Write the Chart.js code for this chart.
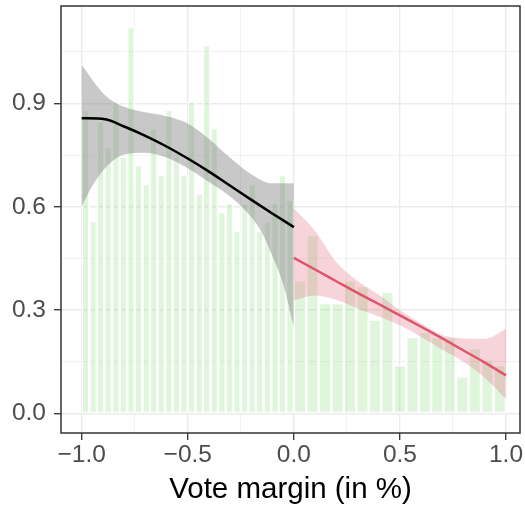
<!DOCTYPE html>
<html lang="en">
<head>
<meta charset="UTF-8">
<title>Vote margin</title>
<script src="https://cdn.jsdelivr.net/npm/chart.js"></script>
<style>
  body { margin: 0; background: #fff; }
  #wrap { width: 525px; height: 510px; }
</style>
</head>
<body>
<div id="wrap"><canvas id="rdd" width="525" height="510"></canvas></div>
<script>
// binned shares, left of the cutoff (28 bins) and right of it (17 bins)
const leftBins = [-0.982, -0.946, -0.911, -0.875, -0.839, -0.804, -0.768, -0.732, -0.696, -0.661,
                  -0.625, -0.589, -0.554, -0.518, -0.482, -0.446, -0.411, -0.375, -0.339, -0.304,
                  -0.268, -0.232, -0.196, -0.161, -0.125, -0.089, -0.054, -0.018];
const leftShare = [0.881, 0.558, 0.848, 0.774, 0.905, 0.745, 1.123, 0.720, 0.666, 0.828,
                   0.692, 0.881, 0.747, 0.692, 0.906, 0.639, 1.069, 0.828, 0.585, 0.611,
                   0.530, 0.611, 0.666, 0.530, 0.558, 0.611, 0.692, 0.620];
const rightBins = [0.029, 0.088, 0.147, 0.206, 0.265, 0.324, 0.382, 0.441, 0.500, 0.559,
                   0.618, 0.676, 0.735, 0.794, 0.853, 0.912, 0.971];
const rightShare = [0.387, 0.518, 0.321, 0.321, 0.387, 0.370, 0.273, 0.354, 0.141, 0.222,
                    0.237, 0.222, 0.222, 0.108, 0.190, 0.157, 0.141];

// fitted curve left of the cutoff, with its band
const fitLeftX = [-1, -0.89, -0.8, -0.7, -0.6, -0.5, -0.4, -0.3, -0.2, -0.1, 0];
const fitLeftY = [0.857, 0.854, 0.833, 0.806, 0.775, 0.740, 0.702, 0.661, 0.620, 0.580, 0.541];
const bandLeftHi = [1.011, 0.924, 0.890, 0.874, 0.863, 0.842, 0.797, 0.742, 0.694, 0.668, 0.668];
const bandLeftLoX = [-1, -0.95, -0.89, -0.8, -0.7, -0.6, -0.5, -0.4, -0.3, -0.2, -0.15, -0.1, -0.05, 0];
const bandLeftLo = [0.600, 0.660, 0.712, 0.752, 0.757, 0.743, 0.712, 0.672, 0.630, 0.570, 0.525, 0.455, 0.375, 0.251];

// fitted curve right of the cutoff, with its band
const fitRightX = [0, 0.1, 0.2, 0.3, 0.4, 0.5, 0.6, 0.7, 0.8, 0.9, 1];
const fitRightY = [0.452, 0.418, 0.384, 0.350, 0.318, 0.285, 0.252, 0.218, 0.183, 0.148, 0.111];
const bandRightHi = [0.595, 0.530, 0.440, 0.385, 0.345, 0.300, 0.262, 0.228, 0.218, 0.217, 0.246];
const bandRightLo = [0.329, 0.343, 0.330, 0.305, 0.282, 0.256, 0.222, 0.185, 0.150, 0.104, 0.042];

// axis breaks
const xMajor = [-1, -0.5, 0, 0.5, 1];
const xMinor = [-0.75, -0.25, 0.25, 0.75];
const yMajor = [0, 0.3, 0.6, 0.9];
const yMinor = [0.15, 0.45, 0.75, 1.05];

const pts = (xs, ys) => xs.map((x, i) => ({ x: x, y: ys[i] }));
const isIn = (list, v) => list.some(m => Math.abs(m - v) < 1e-9);
const fmt = v => v.toFixed(1).replace('-', '\u2212');

function setBreaks(major, minor) {
  return scale => {
    scale.ticks = major.concat(minor).sort((a, b) => a - b).map(v => ({ value: v }));
  };
}

function gridFor(major) {
  return {
    offset: false,
    color: '#EBEBEB',
    lineWidth: ctx => (ctx.tick && isIn(major, ctx.tick.value)) ? 1.4 : 0.7,
    tickColor: ctx => (ctx.tick && isIn(major, ctx.tick.value)) ? '#333333' : 'rgba(0,0,0,0)',
    tickWidth: 1.3,
    tickLength: 7,
    drawTicks: true
  };
}

// no extra room for half labels, the panel is placed by hand
function fixSize(prop, size) {
  return scale => {
    scale[prop] = size;
    scale.paddingTop = 0;
    scale.paddingBottom = 0;
    scale.paddingLeft = 0;
    scale.paddingRight = 0;
  };
}

// ggplot-like panel border drawn on top
const panelBorder = {
  id: 'panelBorder',
  afterDraw(chart) {
    const { ctx, chartArea: a } = chart;
    ctx.save();
    ctx.strokeStyle = '#333333';
    ctx.lineWidth = 1.5;
    ctx.strokeRect(a.left, a.top, a.right - a.left, a.bottom - a.top);
    ctx.restore();
  }
};

const lineStyle = { pointRadius: 0, borderWidth: 2.5, cubicInterpolationMode: 'monotone', fill: false };
const bandStyle = { pointRadius: 0, borderWidth: 0, cubicInterpolationMode: 'monotone' };
const font = { family: '"Liberation Sans", Arial, sans-serif', size: 24.5 };

new Chart(document.getElementById('rdd'), {
  type: 'bar',
  data: {
    datasets: [
      Object.assign({ type: 'line', data: pts(fitLeftX, fitLeftY), borderColor: '#000000', order: 0 }, lineStyle),
      Object.assign({ type: 'line', data: pts(fitRightX, fitRightY), borderColor: '#DF536B', order: 0 }, lineStyle),
      Object.assign({ type: 'line', data: pts(fitLeftX, bandLeftHi), fill: '+1',
                      backgroundColor: 'rgba(128,128,128,0.43)', order: 1 }, bandStyle),
      Object.assign({ type: 'line', data: pts(bandLeftLoX, bandLeftLo), fill: false, order: 1 }, bandStyle),
      Object.assign({ type: 'line', data: pts(fitRightX, bandRightHi), fill: '+1',
                      backgroundColor: 'rgba(223,83,107,0.25)', order: 1 }, bandStyle),
      Object.assign({ type: 'line', data: pts(fitRightX, bandRightLo), fill: false, order: 1 }, bandStyle),
      {
        data: pts(leftBins, leftShare), xAxisID: 'x', order: 2,
        backgroundColor: 'rgba(97,208,79,0.2)', borderColor: '#ffffff', borderWidth: 1.5,
        borderSkipped: false, categoryPercentage: 1, barPercentage: 1, grouped: false
      },
      {
        data: pts(rightBins, rightShare), xAxisID: 'x2', order: 2,
        backgroundColor: 'rgba(97,208,79,0.2)', borderColor: '#ffffff', borderWidth: 1.5,
        borderSkipped: false, categoryPercentage: 1, barPercentage: 1, grouped: false
      }
    ]
  },
  options: {
    responsive: false,
    animation: false,
    layout: { padding: { top: 6, right: 5, left: 0, bottom: 0 } },
    plugins: { legend: { display: false }, tooltip: { enabled: false } },
    scales: {
      x: {
        type: 'linear', position: 'bottom', min: -1.0976, max: 1.066, offset: false,
        afterBuildTicks: setBreaks(xMajor, xMinor),
        afterFit: fixSize('height', 77),
        grid: gridFor(xMajor),
        border: { display: false },
        ticks: {
          autoSkip: false, maxRotation: 0, padding: 1, color: '#4D4D4D', font: font,
          callback: v => isIn(xMajor, v) ? fmt(v) : ''
        },
        title: {
          display: true, text: 'Vote margin (in %)', color: '#000000',
          font: { family: '"Liberation Sans", Arial, sans-serif', size: 29.5 },
          padding: { top: 0, bottom: 2 }
        }
      },
      x2: {
        type: 'linear', display: false, min: -1.0976, max: 1.066, offset: false,
        afterBuildTicks: setBreaks([-1, 0, 1], [])
      },
      y: {
        type: 'linear', position: 'left', min: -0.0563, max: 1.1826,
        afterBuildTicks: setBreaks(yMajor, yMinor),
        afterFit: fixSize('width', 61),
        grid: gridFor(yMajor),
        border: { display: false },
        ticks: {
          autoSkip: false, padding: 8, color: '#4D4D4D', font: font,
          callback: v => isIn(yMajor, v) ? fmt(v) : ''
        }
      }
    }
  },
  plugins: [panelBorder]
});
</script>
</body>
</html>
